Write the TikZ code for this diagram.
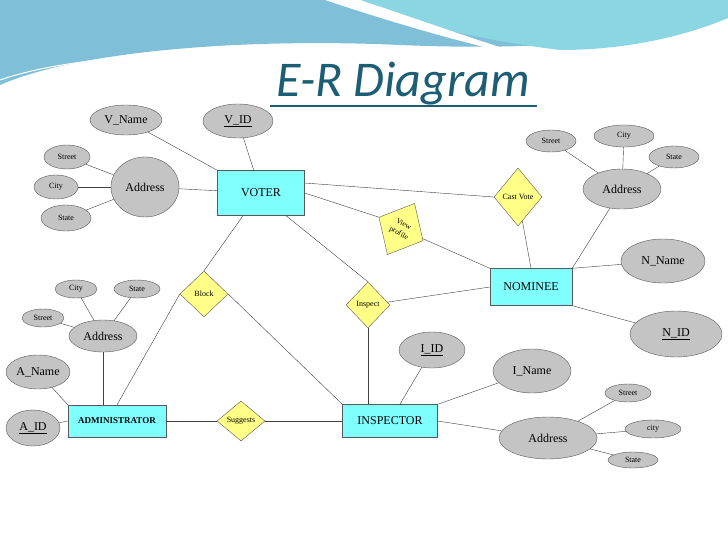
\documentclass[tikz,border=0pt]{standalone}
\usepackage{fontspec}
\setmainfont{Liberation Serif}
\newfontfamily\titlefont{Carlito}
\usetikzlibrary{shapes.geometric}
\definecolor{ent}{HTML}{80FFFF}
\definecolor{rel}{HTML}{FFFF88}
\definecolor{att}{HTML}{C4C4C4}
\definecolor{ttl}{HTML}{1D5E74}
\definecolor{bnA}{HTML}{7FBFD8}
\definecolor{bnB}{HTML}{8AD6E2}
\tikzset{
 ent/.style={draw=gray!70!black,fill=ent,inner sep=0pt,minimum width=#1},
 att/.style={ellipse,draw=gray!70!black,fill=att,inner sep=0pt},
 rel/.style={diamond,draw=gray!70!black,fill=rel,inner sep=0pt,font=\fontsize{8}{9}\selectfont},
 sm/.style={font=\fontsize{8}{9}\selectfont},
 md/.style={font=\fontsize{12}{13}\selectfont},
 ln/.style={draw=black!75,line width=0.4pt}
}
\begin{document}
\begin{tikzpicture}[x=1pt,y=-1pt]
\useasboundingbox (0,0) rectangle (728,546);
\fill[white] (0,0) rectangle (728,546);
% banner
\fill[bnA] (0,0) -- (728,0) -- (728,18) .. controls (620,45) and (520,50) .. (400,45) .. controls (250,38) and (80,50) .. (0,85) -- cycle;
\fill[bnB] (330,0) .. controls (420,25) and (480,40) .. (560,50) .. controls (640,50) and (700,30) .. (728,18) -- (728,0) -- cycle;
\fill[white] (325,0) .. controls (400,25) and (470,45) .. (540,60) .. controls (470,38) and (420,20) .. (360,0) -- cycle;
\draw[white,line width=1pt] (0,80) .. controls (80,52) and (250,45) .. (420,55);
\node[font=\titlefont\itshape\fontsize{50}{54}\selectfont,text=ttl] (title) at (403,84) {E-R Diagram};
\draw[ttl,line width=1.8pt] (270,106) -- (537,106);
% nodes
\node[ent=87pt,minimum height=45pt,md] (voter) at (261,193) {VOTER};
\node[att,minimum width=72pt,minimum height=30pt,md] (vname) at (126,120) {V\_Name};
\node[att,minimum width=70pt,minimum height=34pt,md] (vid) at (238,121) {\underline{V\_ID}};
\node[att,minimum width=68pt,minimum height=60pt,md] (vaddr) at (145,187) {Address};
\node[att,minimum width=46pt,minimum height=24pt,sm] (vst) at (67,157) {Street};
\node[att,minimum width=44pt,minimum height=24pt,sm] (vci) at (56,187) {City};
\node[att,minimum width=50pt,minimum height=26pt,sm] (vsa) at (66,218) {State};
\node[rel,minimum width=48pt,minimum height=58pt] (cast) at (518,197) {Cast Vote};
\node[rel,minimum width=50pt,minimum height=58pt,rotate=-28,align=center,font=\fontsize{7.5}{10}\selectfont] (view) at (401,229) {View\\profile};
\node[ent=82pt,minimum height=37pt,md] (nom) at (531,287) {NOMINEE};
\node[att,minimum width=78pt,minimum height=40pt,md] (naddr) at (622,189) {Address};
\node[att,minimum width=50pt,minimum height=22pt,sm] (nst) at (551,141) {Street};
\node[att,minimum width=60pt,minimum height=22pt,sm] (nci) at (624,136) {City};
\node[att,minimum width=50pt,minimum height=22pt,sm] (nsa) at (674,157) {State};
\node[att,minimum width=84pt,minimum height=44pt,md] (nname) at (663,261) {N\_Name};
\node[att,minimum width=92pt,minimum height=46pt,md] (nid) at (676,334) {\underline{N\_ID}};
\node[rel,minimum width=44pt,minimum height=46pt] (insp) at (368,305) {Inspect};
\node[rel,minimum width=48pt,minimum height=46pt] (block) at (204,294) {Block};
\node[ent=98pt,minimum height=32pt,font=\fontsize{9}{10}\selectfont\bfseries] (admin) at (117,421) {ADMINISTRATOR};
\node[att,minimum width=68pt,minimum height=32pt,md] (aaddr) at (103,336) {Address};
\node[att,minimum width=42pt,minimum height=18pt,sm] (aci) at (76,289) {City};
\node[att,minimum width=46pt,minimum height=18pt,sm] (asa) at (137,289) {State};
\node[att,minimum width=42pt,minimum height=18pt,sm] (ast) at (43,318) {Street};
\node[att,minimum width=64pt,minimum height=34pt,md] (aname) at (38,372) {A\_Name};
\node[att,minimum width=54pt,minimum height=36pt,md] (aid) at (33,428) {\underline{A\_ID}};
\node[rel,minimum width=48pt,minimum height=40pt] (sugg) at (241,421) {Suggests};
\node[ent=95pt,minimum height=33pt,md] (inspr) at (390,421) {INSPECTOR};
\node[att,minimum width=66pt,minimum height=36pt,md] (iid) at (432,350) {\underline{I\_ID}};
\node[att,minimum width=78pt,minimum height=44pt,md] (iname) at (532,371) {I\_Name};
\node[att,minimum width=98pt,minimum height=42pt,md] (iaddr) at (548,438) {Address};
\node[att,minimum width=46pt,minimum height=18pt,sm] (ist) at (628,393) {Street};
\node[att,minimum width=56pt,minimum height=18pt,sm] (ici) at (653,429) {city};
\node[att,minimum width=50pt,minimum height=16pt,sm] (isa) at (633,460) {State};
% edges
\draw[ln] (vname) -- (voter.north west);
\draw[ln] (vid) -- (voter);
\draw[ln] (vaddr) -- (voter);
\draw[ln] (vst) -- (vaddr); \draw[ln] (vci) -- (vaddr); \draw[ln] (vsa) -- (vaddr);
\draw[ln] (voter.east) ++(0,-10) -- (cast.west);
\draw[ln] (cast) -- (nom.north);
\draw[ln] (voter.east) -- (view.west);
\draw[ln] (view) -- (nom.north west);
\draw[ln] (naddr) -- (nom.north east);
\draw[ln] (nst) -- (naddr); \draw[ln] (nci) -- (naddr); \draw[ln] (nsa) -- (naddr);
\draw[ln] (nname) -- (nom.north east);
\draw[ln] (nid) -- (nom.south east);
\draw[ln] (voter.south) ++(-18,0) -- (block.north);
\draw[ln] (voter.south) ++(25,0) -- (insp.north);
\draw[ln] (insp) -- (nom.west);
\draw[ln] (insp.south) -- (inspr.north -| insp.south);
\draw[ln] (block.west) -- (admin.north);
\draw[ln] (block.east) -- (inspr.north west);
\draw[ln] (aci) -- (aaddr); \draw[ln] (asa) -- (aaddr); \draw[ln] (ast) -- (aaddr);
\draw[ln] (aaddr) -- (admin.north -| aaddr);
\draw[ln] (aname) -- (admin.north west);
\draw[ln] (aid) -- (admin.west);
\draw[ln] (admin) -- (sugg);
\draw[ln] (sugg) -- (inspr);
\draw[ln] (iid) -- (inspr);
\draw[ln] (iname) -- (inspr.north east);
\draw[ln] (iaddr) -- (inspr.east);
\draw[ln] (ist) -- (iaddr); \draw[ln] (ici) -- (iaddr); \draw[ln] (isa) -- (iaddr);
\end{tikzpicture}
\end{document}
